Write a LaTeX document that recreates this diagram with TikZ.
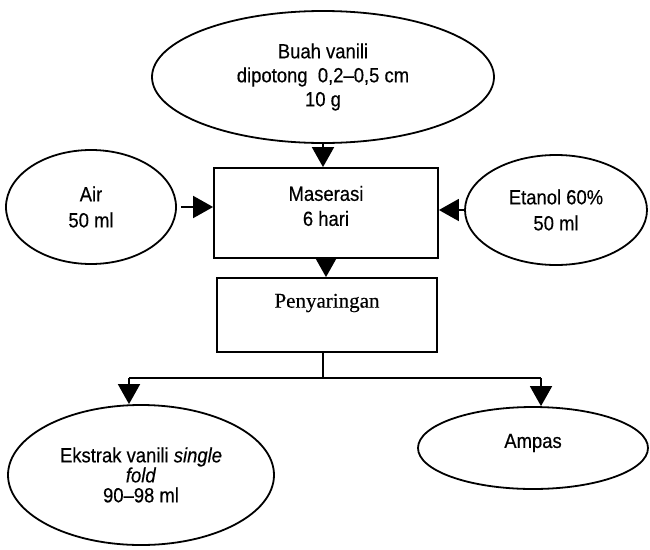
\documentclass[tikz,border=0pt]{standalone}
\usepackage{fontspec}
\setmainfont[FakeStretch=0.9,FakeBold=0.4]{Liberation Sans}
\newfontfamily\serifface[FakeBold=0.3]{Liberation Serif}
\usetikzlibrary{shapes.geometric,arrows.meta}
\tikzset{
  ell/.style={ellipse, draw, line width=1.8pt, inner sep=0pt, align=center},
  procbox/.style={rectangle, draw, line width=1.8pt, inner sep=0pt},
  txt/.style={align=center, inner sep=0pt},
  flow/.style={line width=1.8pt, -{Triangle[length=20pt,width=22pt]}},
  plain/.style={line width=1.8pt}
}
\begin{document}
\begin{tikzpicture}[x=1pt,y=-1pt,font=\fontsize{20.5}{24}\selectfont]
\useasboundingbox (0,0) rectangle (650,549);
% shapes
\node[ell, minimum width=342pt, minimum height=132pt] (buah) at (323,77)
  {Buah vanili\\dipotong\ \ 0,2--0,5 cm\\10 g};
\node[ell, minimum width=170pt, minimum height=114pt, font=\fontsize{20.5}{26}\selectfont] (air) at (91,207)
  {Air\\50 ml};
\node[ell, minimum width=182pt, minimum height=110pt, font=\fontsize{20.5}{26}\selectfont] (etanol) at (556,210)
  {Etanol 60\%\\50 ml};
\node[procbox, minimum width=224pt, minimum height=90pt] (mas) at (326,213) {};
\node[txt, font=\fontsize{20.5}{25}\selectfont] (mastxt) at (326,206) {Maserasi\\6 hari};
\node[procbox, minimum width=220pt, minimum height=74pt] (peny) at (327,315) {};
\node[txt, font=\serifface\fontsize{21}{25}\selectfont] (penytxt) at (327,303) {Penyaringan};
\node[ell, minimum width=266pt, minimum height=140pt, font=\fontsize{20.5}{20}\selectfont] (ekstrak) at (141,475)
  {Ekstrak vanili \textit{single}\\\textit{fold}\\90--98 ml};
\node[ell, minimum width=230pt, minimum height=82pt] (ampas) at (533,448) {};
\node[txt] (ampastxt) at (533,443) {Ampas};
% connectors
\coordinate (split) at (323,378);
\coordinate (splitL) at (129,378);
\coordinate (splitR) at (541,378);
\draw[flow] (buah.south) -- (buah.south |- mas.north);
\draw[flow] (air.east) ++(4,0) coordinate (airout) (airout) -- (airout -| mas.west);
\draw[flow] (etanol.west) -- (etanol.west -| mas.east);
\draw[flow] (mas.south) -- (mas.south |- peny.north);
\draw[plain] (peny.south -| split) -- (split);
\draw[plain] (splitL) -- (splitR);
\draw[flow] (splitL) -- (splitL |- ekstrak.north);
\draw[flow] (splitR) -- (splitR |- ampas.north);
\end{tikzpicture}
\end{document}
